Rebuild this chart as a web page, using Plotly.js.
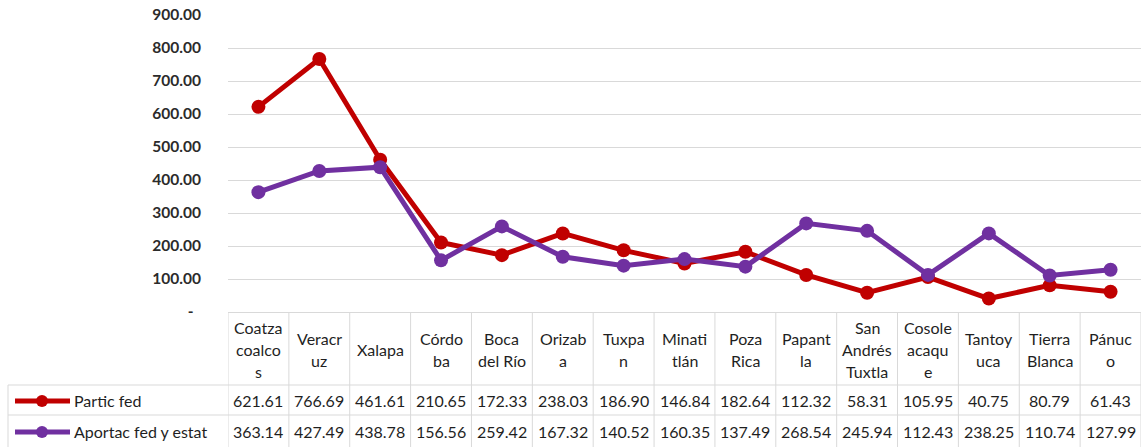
<!DOCTYPE html>
<html>
<head>
<meta charset="utf-8">
<script src="https://cdn.plot.ly/plotly-3.0.1.min.js"></script>
<style>
  html, body { margin: 0; padding: 0; background: #ffffff; }
  #chart { width: 1141px; height: 447px; }
</style>
</head>
<body>
<div id="chart"></div>
<script>
// ---- Data ----
const categories = [
  "Coatza<br>coalco<br>s", "Veracr<br>uz", "Xalapa", "Córdo<br>ba", "Boca<br>del Río",
  "Orizab<br>a", "Tuxpa<br>n", "Minati<br>tlán", "Poza<br>Rica", "Papant<br>la",
  "San<br>Andrés<br>Tuxtla", "Cosole<br>acaqu<br>e", "Tantoy<br>uca", "Tierra<br>Blanca", "Pánuc<br>o"
];
const seriesNames = ["Partic fed", "Aportac fed y estat"];
const particFed = [621.61, 766.69, 461.61, 210.65, 172.33, 238.03, 186.90, 146.84, 182.64, 112.32, 58.31, 105.95, 40.75, 80.79, 61.43];
const aportacFedEstat = [363.14, 427.49, 438.78, 156.56, 259.42, 167.32, 140.52, 160.35, 137.49, 268.54, 245.94, 112.43, 238.25, 110.74, 127.99];
const yTickVals = [0, 100, 200, 300, 400, 500, 600, 700, 800, 900];
const yTickText = ["-\u00a0\u00a0", "100.00", "200.00", "300.00", "400.00", "500.00", "600.00", "700.00", "800.00", "900.00"];

// ---- Styles ----
const colors = ["#C00000", "#7030A0"];
const W = 1141, H = 447;
const mL = 228, mR = 0, mT = 15, mB = 135;
const plotW = W - mL - mR, plotH = H - mT - mB;
const py = p => (H - mB - p) / plotH;      // pixel y -> paper y
const px = p => (p - mL) / plotW;          // pixel x -> paper x
const gridCol = "#D9D9D9";
const textCol = "#1F1F1F";
const tableFont = { family: "Lato, 'Open Sans', sans-serif", size: 16, color: textCol };

const xIdx = categories.map((_, i) => i);

const traces = [particFed, aportacFedEstat].map((vals, s) => ({
  type: "scatter",
  mode: "lines+markers",
  x: xIdx,
  y: vals,
  name: seriesNames[s],
  line: { color: colors[s], width: 5 },
  marker: { color: colors[s], size: 14 },
  cliponaxis: false,
  showlegend: false,
  hoverinfo: "skip"
}));

// ---- Table (borders and text) ----
const shapes = [];
const annotations = [];
const tableBottom = py(H);
const rowLines = [385, 415];
for (let k = 0; k <= categories.length; k++) {
  shapes.push({ type: "line", xref: "x", yref: "paper", x0: k - 0.5, x1: k - 0.5,
    y0: 0, y1: tableBottom, line: { color: gridCol, width: 1 } });
}
rowLines.forEach(r => {
  shapes.push({ type: "line", xref: "paper", yref: "paper", x0: px(8), x1: 1,
    y0: py(r), y1: py(r), line: { color: gridCol, width: 1 } });
});
shapes.push({ type: "line", xref: "paper", yref: "paper", x0: px(8), x1: px(8),
  y0: py(rowLines[0]), y1: tableBottom, line: { color: gridCol, width: 1 } });

const headerCenter = 349, headerLH = 22;
categories.forEach((c, i) => {
  const lines = c.split("<br>");
  lines.forEach((ln, j) => {
    const yc = headerCenter + headerLH * (j - (lines.length - 1) / 2);
    annotations.push({ xref: "x", yref: "paper", x: i, y: py(yc), text: ln,
      showarrow: false, xanchor: "center", yanchor: "middle", font: tableFont });
  });
});

const rowCenters = [400, 431];
[particFed, aportacFedEstat].forEach((vals, s) => {
  vals.forEach((v, i) => {
    annotations.push({ xref: "x", yref: "paper", x: i, y: py(rowCenters[s]), text: v.toFixed(2),
      showarrow: false, xanchor: "center", yanchor: "middle", font: tableFont });
  });
  shapes.push({ type: "line", xref: "paper", yref: "paper", x0: px(15), x1: px(70),
    y0: py(rowCenters[s] + 1), y1: py(rowCenters[s] + 1), line: { color: colors[s], width: 5 } });
  shapes.push({ type: "circle", xref: "paper", yref: "paper", xsizemode: "pixel", ysizemode: "pixel",
    xanchor: px(42), yanchor: py(rowCenters[s] + 1), x0: -6, x1: 6, y0: -6, y1: 6,
    fillcolor: colors[s], line: { color: colors[s], width: 0 } });
  annotations.push({ xref: "paper", yref: "paper", x: px(72), y: py(rowCenters[s]), text: seriesNames[s],
    showarrow: false, xanchor: "left", yanchor: "middle", font: tableFont });
});

const layout = {
  width: W, height: H,
  margin: { l: mL, r: mR, t: mT, b: mB, pad: 0 },
  paper_bgcolor: "#ffffff",
  plot_bgcolor: "#ffffff",
  showlegend: false,
  xaxis: {
    range: [-0.5, categories.length - 0.5],
    showticklabels: false, showgrid: false, zeroline: false, showline: false, ticks: "",
    fixedrange: true
  },
  yaxis: {
    range: [0, 900],
    tickvals: yTickVals,
    ticktext: yTickText,
    showgrid: true, gridcolor: gridCol, gridwidth: 1,
    zeroline: true, zerolinecolor: gridCol, zerolinewidth: 1,
    showline: false, ticks: "",
    ticklabelstandoff: 26,
    tickfont: { family: "Lato, 'Open Sans', sans-serif", size: 15.5, color: "#2B2B2B", weight: "bold" },
    fixedrange: true
  },
  shapes: shapes,
  annotations: annotations
};

Plotly.newPlot("chart", traces, layout, { displayModeBar: false, staticPlot: true });
</script>
</body>
</html>
